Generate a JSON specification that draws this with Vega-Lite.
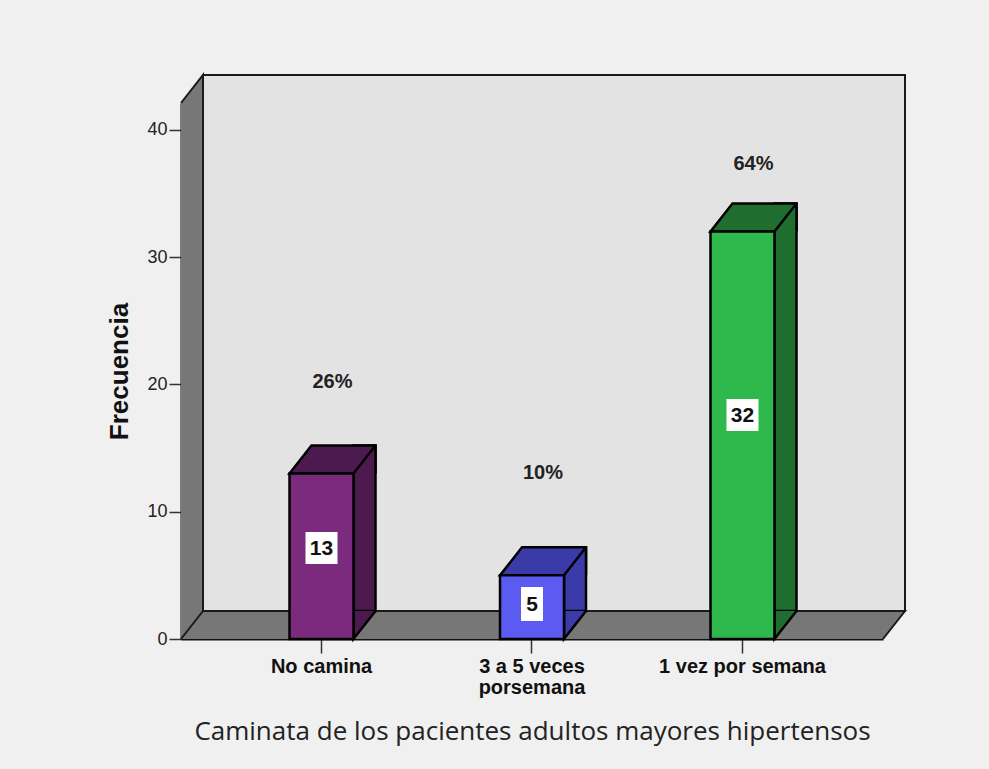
{
  "$schema": "https://vega.github.io/schema/vega-lite/v6.json",
  "width": 702,
  "height": 536,
  "autosize": {"type": "none"},
  "padding": {"left": 181, "top": 103, "right": 106, "bottom": 130},
  "background": "#F0F0F0",
  "config": {
    "view": {"stroke": null},
    "font": "Liberation Sans",
    "axisX": {
      "labelFont": "Liberation Sans", "labelFontSize": 20, "labelFontWeight": "bold", "labelColor": "#111111",
      "labelLineHeight": 21, "labelPadding": 3, "labelAngle": 0,
      "tickSize": 14, "tickColor": "#333333", "tickWidth": 1.5,
      "domainColor": "#111111", "domainWidth": 2,
      "titleFont": "Open Sans", "titleFontSize": 26, "titleFontWeight": "normal", "titleColor": "#222222", "titlePadding": 21,
      "grid": false, "zindex": 1
    },
    "axisY": {
      "labelFont": "Liberation Sans", "labelFontSize": 18, "labelColor": "#222222", "labelPadding": 2,
      "tickSize": 12, "tickColor": "#333333", "tickWidth": 1.5, "tickCount": 4,
      "domainColor": "#111111", "domainWidth": 2,
      "titleFont": "Liberation Sans", "titleFontSize": 26, "titleFontWeight": "bold", "titleColor": "#111111", "titlePadding": 14,
      "grid": false, "zindex": 1
    }
  },
  "data": {"values": [
    {"cat": "No camina", "count": 13},
    {"cat": "3 a 5 veces porsemana", "count": 5},
    {"cat": "1 vez por semana", "count": 32}
  ]},
  "transform": [
    {"joinaggregate": [{"op": "sum", "field": "count", "as": "total"}]},
    {"calculate": "format(datum.count / datum.total, '.0%')", "as": "pct"},
    {"calculate": "datum.count * 0.55", "as": "mid"},
    {"calculate": "datum.count * 0.9 + 8.5", "as": "pctPos"}
  ],
  "resolve": {"scale": {"x": "independent"}},
  "layer": [
    {
      "transform": [{"aggregate": [{"op": "sum", "field": "count", "as": "total"}]}],
      "encoding": {
        "x": {"datum": 0, "type": "quantitative", "scale": {"domain": [0, 1]}, "axis": null}
      },
      "layer": [
        {
          "mark": {"type": "rect", "fill": "#777777"},
          "encoding": {"x2": {"datum": 1}, "y": {"datum": 0, "type": "quantitative"}, "y2": {"datum": 42.1}}
        },
        {
          "mark": {"type": "rect", "fill": "#E3E3E3", "stroke": "#1A1A1A", "strokeWidth": 2, "xOffset": 22, "x2Offset": 22, "yOffset": -28, "y2Offset": -28},
          "encoding": {"x2": {"datum": 1}, "y": {"datum": 0, "type": "quantitative"}, "y2": {"datum": 42.1}}
        },
        {
          "mark": {"type": "point", "shape": "M0,0 L22,-28 L22,0", "size": 4, "filled": true, "fill": "#777777", "stroke": "#1A1A1A", "strokeWidth": 2, "opacity": 1},
          "encoding": {"y": {"datum": 42.1, "type": "quantitative"}}
        },
        {
          "mark": {"type": "point", "shape": "M0,0 L22,-28 L0,-28", "size": 4, "filled": true, "fill": "#777777", "stroke": "#1A1A1A", "strokeWidth": 2, "opacity": 1},
          "encoding": {"x": {"datum": 1, "type": "quantitative", "scale": {"domain": [0, 1]}, "axis": null}, "y": {"datum": 0, "type": "quantitative"}}
        },
        {
          "mark": {"type": "point", "shape": "M0,0 L22,-28", "size": 4, "filled": false, "stroke": "#1A1A1A", "strokeWidth": 2, "opacity": 1},
          "encoding": {"y": {"datum": 0, "type": "quantitative"}}
        }
      ]
    },
    {
      "encoding": {
        "x": {
          "field": "cat", "type": "nominal", "sort": null,
          "scale": {"paddingInner": 0.696, "paddingOuter": 0.5155},
          "title": "Caminata de los pacientes adultos mayores hipertensos",
          "axis": {"labelExpr": "datum.label == '3 a 5 veces porsemana' ? ['3 a 5 veces', 'porsemana'] : datum.label"}
        }
      },
      "layer": [
        {
          "mark": {"type": "bar", "width": 22, "xOffset": 43, "yOffset": -28, "y2Offset": -28, "stroke": "#000000", "strokeWidth": 2.5},
          "encoding": {
            "y": {"field": "count", "type": "quantitative"},
            "color": {"field": "cat", "type": "nominal", "sort": null, "legend": null,
              "scale": {"domain": ["No camina", "3 a 5 veces porsemana", "1 vez por semana"], "range": ["#4C1A4E", "#3A3AA8", "#1F6E30"]}}
          }
        },
        {
          "mark": {"type": "point", "shape": "M32,0 L-32,0 L-10,-28 L54,-28 L54,0 M32,0 L54,-28", "size": 4, "filled": true, "stroke": "#000000", "strokeWidth": 2.5, "opacity": 1},
          "encoding": {
            "y": {"field": "count", "type": "quantitative"},
            "color": {"field": "cat", "type": "nominal", "sort": null, "legend": null}
          }
        },
        {
          "mark": {"type": "point", "shape": "M32,-28 L32,0 L54,-28", "size": 4, "filled": true, "stroke": "#000000", "strokeWidth": 2.5, "opacity": 1},
          "encoding": {
            "y": {"datum": 0, "type": "quantitative"},
            "color": {"field": "cat", "type": "nominal", "sort": null, "legend": null}
          }
        },
        {
          "mark": {"type": "bar", "stroke": "#000000", "strokeWidth": 2.5},
          "encoding": {
            "y": {"field": "count", "type": "quantitative", "title": "Frecuencia", "scale": {"domain": [0, 42.1], "nice": false, "zero": true}},
            "fill": {"field": "cat", "type": "nominal", "sort": null, "legend": null,
              "scale": {"domain": ["No camina", "3 a 5 veces porsemana", "1 vez por semana"], "range": ["#7B2A7E", "#5B5BF2", "#2FB84B"]}}
          }
        },
        {
          "mark": {"type": "point", "size": 4, "filled": true, "fill": "#FFFFFF", "strokeWidth": 0, "opacity": 1},
          "encoding": {
            "y": {"field": "mid", "type": "quantitative"},
            "shape": {"condition": {"test": "datum.count < 10", "value": "M-11,-17H11V17H-11Z"}, "value": "M-16,-16H16V16H-16Z"}
          }
        },
        {
          "mark": {"type": "text", "font": "Liberation Sans", "fontSize": 21, "fontWeight": "bold", "color": "#111111", "baseline": "middle", "align": "center", "dy": 1},
          "encoding": {
            "y": {"field": "mid", "type": "quantitative"},
            "text": {"field": "count", "type": "quantitative"}
          }
        },
        {
          "mark": {"type": "text", "font": "Liberation Sans", "fontSize": 20, "fontWeight": "bold", "color": "#222222", "baseline": "middle", "align": "center", "dx": 11},
          "encoding": {
            "y": {"field": "pctPos", "type": "quantitative"},
            "text": {"field": "pct", "type": "nominal"}
          }
        }
      ]
    }
  ]
}
